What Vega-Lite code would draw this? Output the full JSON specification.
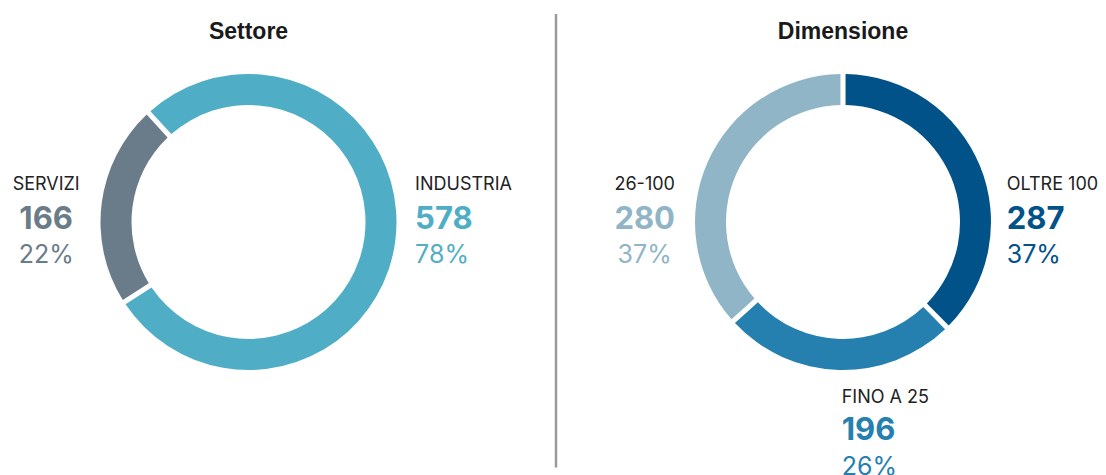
{
  "$schema": "https://vega.github.io/schema/vega-lite/v6.json",
  "padding": {"left": 0, "top": 12, "right": 0, "bottom": 0},
  "bounds": "flush",
  "spacing": 59,
  "resolve": {"scale": {"color": "independent", "theta": "independent"}},
  "config": {"view": {"stroke": null}, "font": "Inter"},
  "hconcat": [
    {
      "width": 497,
      "height": 356,
      "title": {"text": ["", "Settore"], "font": "Liberation Sans", "fontSize": 23, "fontWeight": "bold", "color": "#1a1a1a", "anchor": "middle", "frame": "group", "baseline": "top", "lineHeight": 6.5, "offset": 0},
      "data": {"values": [
        {"cat": "INDUSTRIA", "n": 578, "pct": "78%"},
        {"cat": "SERVIZI", "n": 166, "pct": "22%"}
      ]},
      "encoding": {
        "theta": {"field": "n", "type": "quantitative", "stack": true, "scale": {"range": [-0.7418, 5.5414]}},
        "order": {"field": "cat", "type": "ordinal", "sort": "ascending"}
      },
      "layer": [
        {
          "mark": {"type": "arc", "outerRadius": 148, "innerRadius": 117, "padAngle": 0.027},
          "encoding": {"color": {"field": "cat", "type": "nominal", "scale": {"domain": ["INDUSTRIA", "SERVIZI"], "range": ["#4FAEC5", "#6A7C8A"]}, "legend": null}}
        },
        {
          "mark": {"type": "text", "radius": 204, "align": "center", "baseline": "alphabetic", "dy": -5.6, "font": "Inter", "fontSize": 18, "color": "#222222"},
          "encoding": {"detail": {"field": "cat"}, "text": {"condition": {"test": "datum.cat === 'SERVIZI'", "field": "cat", "type": "nominal"}, "value": ""}}
        },
        {
          "mark": {"type": "text", "radius": 204, "align": "center", "baseline": "alphabetic", "dy": 32.8, "font": "Inter", "fontSize": 31, "fontWeight": "bold"},
          "encoding": {"color": {"field": "cat", "type": "nominal", "legend": null}, "text": {"condition": {"test": "datum.cat === 'SERVIZI'", "field": "n", "type": "quantitative"}, "value": ""}}
        },
        {
          "mark": {"type": "text", "radius": 204, "align": "center", "baseline": "alphabetic", "dy": 67, "font": "Inter", "fontSize": 25},
          "encoding": {"color": {"field": "cat", "type": "nominal", "legend": null}, "text": {"condition": {"test": "datum.cat === 'SERVIZI'", "field": "pct", "type": "nominal"}, "value": ""}}
        },
        {
          "mark": {"type": "text", "radius": 168, "align": "left", "baseline": "alphabetic", "dy": -53.2, "font": "Inter", "fontSize": 18, "color": "#222222"},
          "encoding": {"detail": {"field": "cat"}, "text": {"condition": {"test": "datum.cat === 'INDUSTRIA'", "field": "cat", "type": "nominal"}, "value": ""}}
        },
        {
          "mark": {"type": "text", "radius": 168, "align": "left", "baseline": "alphabetic", "dy": -14.8, "font": "Inter", "fontSize": 31, "fontWeight": "bold"},
          "encoding": {"color": {"field": "cat", "type": "nominal", "legend": null}, "text": {"condition": {"test": "datum.cat === 'INDUSTRIA'", "field": "n", "type": "quantitative"}, "value": ""}}
        },
        {
          "mark": {"type": "text", "radius": 168, "align": "left", "baseline": "alphabetic", "dy": 20, "font": "Inter", "fontSize": 25},
          "encoding": {"color": {"field": "cat", "type": "nominal", "legend": null}, "text": {"condition": {"test": "datum.cat === 'INDUSTRIA'", "field": "pct", "type": "nominal"}, "value": ""}}
        }
      ]
    },
    {
      "width": 1,
      "height": 356,
      "data": {"values": [{}]},
      "mark": {"type": "rule", "color": "#9a9a9a", "strokeWidth": 2.5},
      "encoding": {"x": {"value": 0}, "y": {"value": -30}, "y2": {"value": 423.5}}
    },
    {
      "width": 454,
      "height": 356,
      "title": {"text": ["", "Dimensione"], "font": "Liberation Sans", "fontSize": 23, "fontWeight": "bold", "color": "#1a1a1a", "anchor": "middle", "frame": "group", "baseline": "top", "lineHeight": 6.5, "offset": 0},
      "data": {"values": [
        {"cat": "OLTRE 100", "n": 287, "pct": "37%"},
        {"cat": "FINO A 25", "n": 196, "pct": "26%"},
        {"cat": "26-100", "n": 280, "pct": "37%"}
      ]},
      "encoding": {
        "theta": {"field": "n", "type": "quantitative", "stack": true},
        "order": {"field": "cat", "type": "ordinal", "sort": "descending"}
      },
      "layer": [
        {
          "mark": {"type": "arc", "outerRadius": 148, "innerRadius": 117, "padAngle": 0.027},
          "encoding": {"color": {"field": "cat", "type": "nominal", "scale": {"domain": ["OLTRE 100", "FINO A 25", "26-100"], "range": ["#02528A", "#2580B0", "#8FB5C7"]}, "legend": null}}
        },
        {
          "mark": {"type": "text", "radius": 177, "align": "left", "baseline": "alphabetic", "dy": 35.4, "font": "Inter", "fontSize": 18, "color": "#222222"},
          "encoding": {"detail": {"field": "cat"}, "text": {"condition": {"test": "datum.cat === 'OLTRE 100'", "field": "cat", "type": "nominal"}, "value": ""}}
        },
        {
          "mark": {"type": "text", "radius": 177, "align": "left", "baseline": "alphabetic", "dy": 73.8, "font": "Inter", "fontSize": 31, "fontWeight": "bold"},
          "encoding": {"color": {"field": "cat", "type": "nominal", "legend": null}, "text": {"condition": {"test": "datum.cat === 'OLTRE 100'", "field": "n", "type": "quantitative"}, "value": ""}}
        },
        {
          "mark": {"type": "text", "radius": 177, "align": "left", "baseline": "alphabetic", "dy": 108.6, "font": "Inter", "fontSize": 25},
          "encoding": {"color": {"field": "cat", "type": "nominal", "legend": null}, "text": {"condition": {"test": "datum.cat === 'OLTRE 100'", "field": "pct", "type": "nominal"}, "value": ""}}
        },
        {
          "mark": {"type": "text", "radius": 217, "align": "center", "baseline": "alphabetic", "dy": 56.3, "font": "Inter", "fontSize": 18, "color": "#222222"},
          "encoding": {"detail": {"field": "cat"}, "text": {"condition": {"test": "datum.cat === '26-100'", "field": "cat", "type": "nominal"}, "value": ""}}
        },
        {
          "mark": {"type": "text", "radius": 217, "align": "center", "baseline": "alphabetic", "dy": 94.7, "font": "Inter", "fontSize": 31, "fontWeight": "bold"},
          "encoding": {"color": {"field": "cat", "type": "nominal", "legend": null}, "text": {"condition": {"test": "datum.cat === '26-100'", "field": "n", "type": "quantitative"}, "value": ""}}
        },
        {
          "mark": {"type": "text", "radius": 217, "align": "center", "baseline": "alphabetic", "dy": 129.5, "font": "Inter", "fontSize": 25},
          "encoding": {"color": {"field": "cat", "type": "nominal", "legend": null}, "text": {"condition": {"test": "datum.cat === '26-100'", "field": "pct", "type": "nominal"}, "value": ""}}
        },
        {
          "mark": {"type": "text", "radius": 200, "align": "left", "baseline": "alphabetic", "dx": 4.5, "dy": -18.9, "font": "Inter", "fontSize": 18, "color": "#222222"},
          "encoding": {"detail": {"field": "cat"}, "text": {"condition": {"test": "datum.cat === 'FINO A 25'", "field": "cat", "type": "nominal"}, "value": ""}}
        },
        {
          "mark": {"type": "text", "radius": 200, "align": "left", "baseline": "alphabetic", "dx": 4.5, "dy": 18.4, "font": "Inter", "fontSize": 31, "fontWeight": "bold"},
          "encoding": {"color": {"field": "cat", "type": "nominal", "legend": null}, "text": {"condition": {"test": "datum.cat === 'FINO A 25'", "field": "n", "type": "quantitative"}, "value": ""}}
        },
        {
          "mark": {"type": "text", "radius": 200, "align": "left", "baseline": "alphabetic", "dx": 4.5, "dy": 53, "font": "Inter", "fontSize": 25},
          "encoding": {"color": {"field": "cat", "type": "nominal", "legend": null}, "text": {"condition": {"test": "datum.cat === 'FINO A 25'", "field": "pct", "type": "nominal"}, "value": ""}}
        }
      ]
    }
  ]
}
